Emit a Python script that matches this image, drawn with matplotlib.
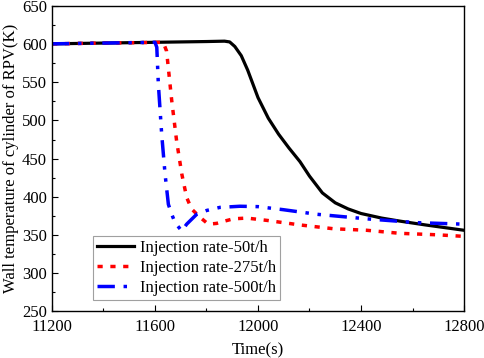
import matplotlib
matplotlib.use("Agg")
import matplotlib.pyplot as plt
from matplotlib.ticker import MultipleLocator

plt.rcParams['font.family'] = ['Liberation Serif', 'DejaVu Serif']

# Data
t_50 = [11200, 11400, 11600, 11800, 11870, 11890, 11910, 11935, 11960, 12000, 12040, 12080,
        12120, 12163, 12200, 12250, 12300, 12350, 12400, 12480, 12551, 12650, 12800]
T_50 = [600.5, 601.5, 602.5, 603.5, 604, 603, 597, 585, 566, 530, 503, 482,
        464, 446, 427, 405, 392, 384, 378, 372, 368, 363, 356]

t_275 = [11200, 11400, 11632, 11645, 11665, 11684, 11704, 11723, 11742, 11775, 11807, 11839,
         11870, 11904, 11956, 12034, 12163, 12293, 12422, 12551, 12700, 12800]
T_275 = [600.5, 601.5, 602.5, 591, 526, 473, 430, 399, 384, 373, 364, 365,
         368, 371, 372, 369, 363, 358, 356, 352, 350, 348]

t_500 = [11200, 11400, 11600, 11607, 11613, 11626, 11639, 11652, 11665, 11678, 11704, 11723,
         11762, 11801, 11852, 11930, 12000, 12098, 12228, 12422, 12616, 12800]
T_500 = [600.5, 601.5, 602.5, 596, 548, 482, 430, 390, 377, 366, 355, 364,
         377, 382, 386, 387.5, 387, 383, 377, 371, 366, 364]

labels = ['Injection rate-50t/h', 'Injection rate-275t/h', 'Injection rate-500t/h']
x_ticks = [11200, 11600, 12000, 12400, 12800]
y_ticks = [250, 300, 350, 400, 450, 500, 550, 600, 650]

fig = plt.figure(figsize=(4.84, 3.58), dpi=100)
ax = fig.add_axes([0.1074, 0.131, 0.8513, 0.852])

ax.plot(t_50, T_50, color='black', lw=2.3, label=labels[0])
ax.plot(t_275, T_275, color='#ff0000', lw=2.5, linestyle=(0, (1.5, 2.2)), label=labels[1])
ax.plot(t_500, T_500, color='#0000ff', lw=2.5, linestyle=(0, (5, 2.5, 1, 2.5, 1, 2.5)), label=labels[2])

ax.set_xlim(11200, 12800)
ax.set_ylim(250, 650)
ax.set_xticks(x_ticks)
ax.set_yticks(y_ticks)
ax.xaxis.set_minor_locator(MultipleLocator(200))
ax.yaxis.set_minor_locator(MultipleLocator(25))
ax.tick_params(which='both', direction='in', top=False, right=False, labelsize=12)
ax.tick_params(axis='x', which='major', pad=6)
ax.tick_params(which='major', length=4.5, width=0.8)
ax.tick_params(which='minor', length=2.5, width=0.8)
for s in ax.spines.values():
    s.set_linewidth(1.0)

ax.set_xlabel('Time(s)', fontsize=12, labelpad=5)
ax.set_ylabel('Wall temperature of cylinder of RPV(K)', fontsize=12, labelpad=2)

leg = ax.legend(loc='lower left', bbox_to_anchor=(0.1, 0.035), fontsize=12, frameon=True,
                fancybox=False, edgecolor='#888888', handlelength=2.2, handletextpad=0.35,
                borderpad=0.25, labelspacing=0.25, borderaxespad=0)
leg.get_frame().set_linewidth(0.8)

fig.savefig('out.png', dpi=100)
